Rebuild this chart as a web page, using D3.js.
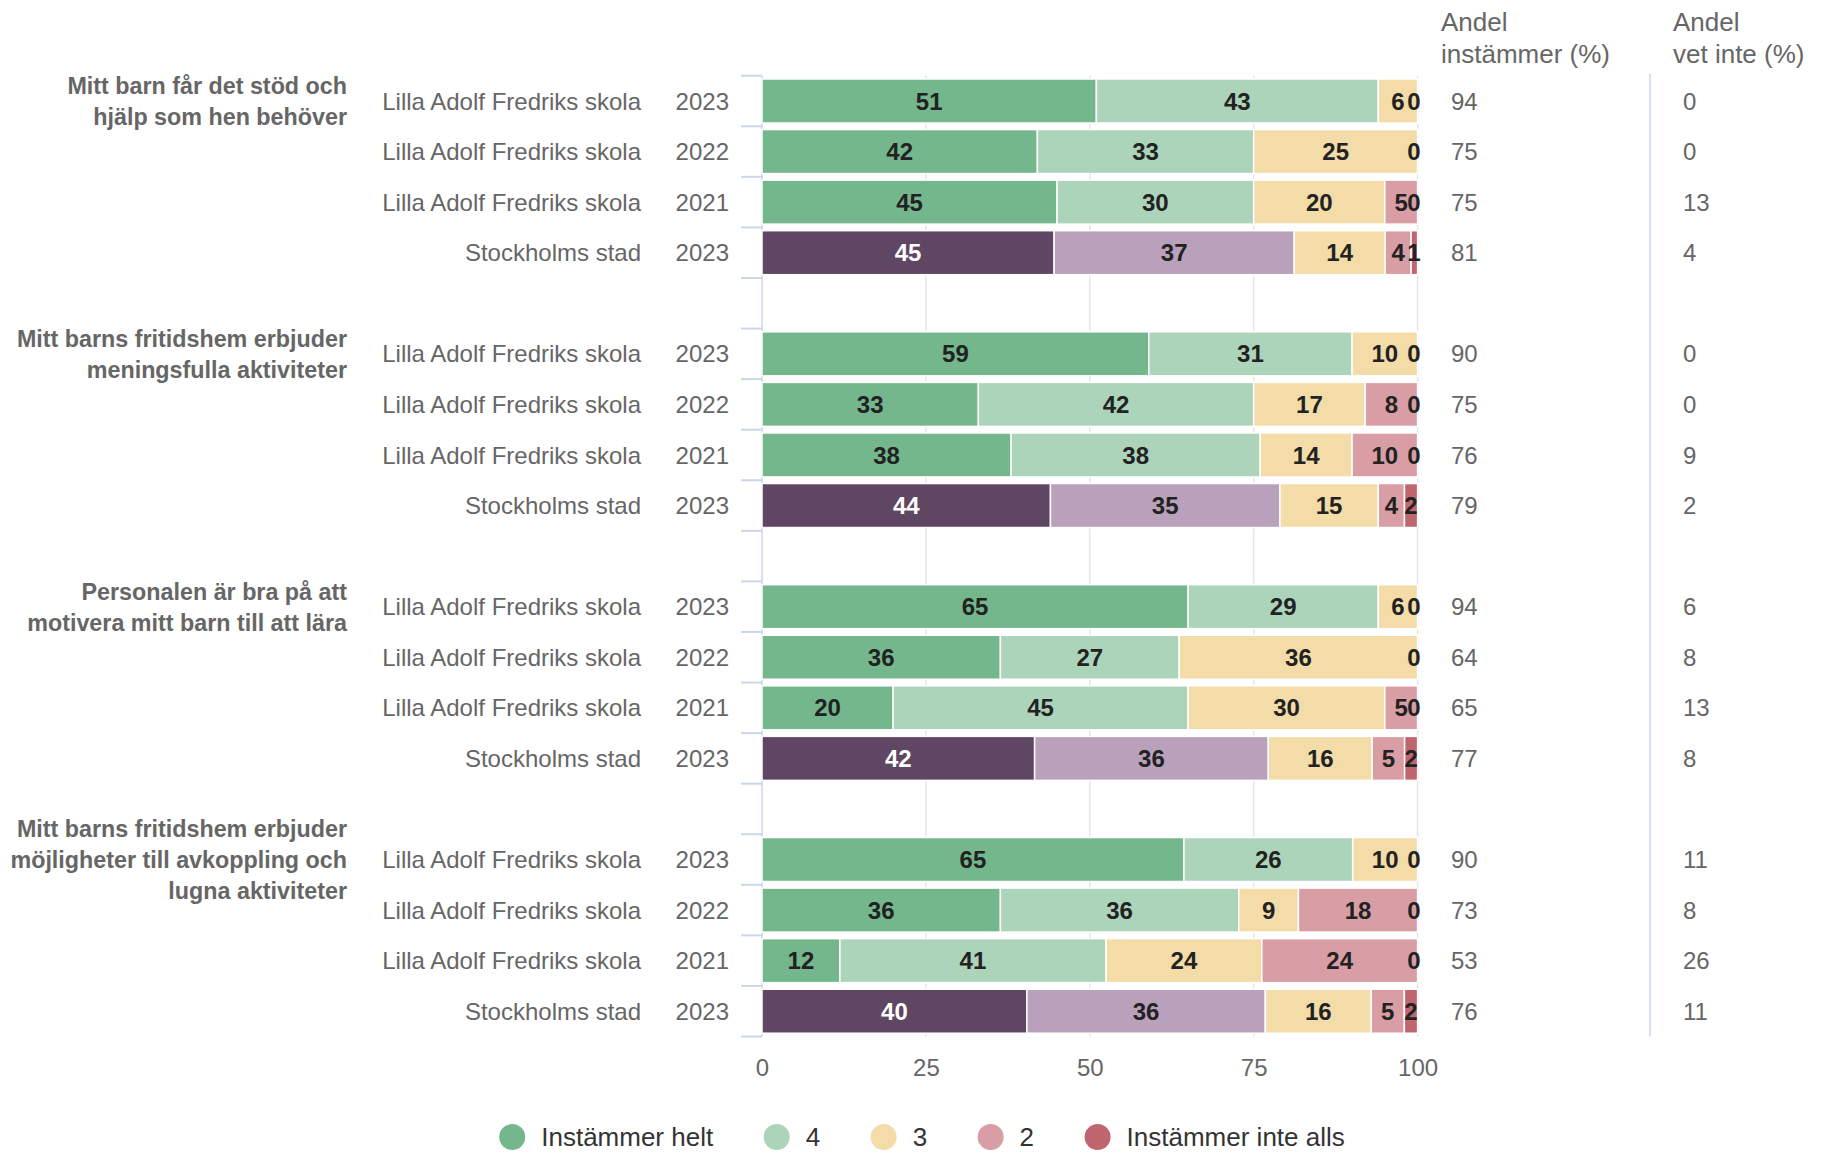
<!DOCTYPE html>
<html>
<head>
<meta charset="UTF-8">
<script src="https://cdn.jsdelivr.net/npm/d3@7"></script>
<style>
body{
    margin:0;
    background:#fff;
    font-family:"Liberation Sans", Arial, Helvetica, sans-serif;
}
</style>
</head>
<body>
<script>
// chart data
var questions = [
    ["Mitt barn får det stöd och", "hjälp som hen behöver"],
    ["Mitt barns fritidshem erbjuder", "meningsfulla aktiviteter"],
    ["Personalen är bra på att", "motivera mitt barn till att lära"],
    ["Mitt barns fritidshem erbjuder", "möjligheter till avkoppling och", "lugna aktiviteter"]
]
var units = ["Lilla Adolf Fredriks skola", "Lilla Adolf Fredriks skola", "Lilla Adolf Fredriks skola", "Stockholms stad"]
var years = ["2023", "2022", "2021", "2023"]
var series = ["Instämmer helt", "4", "3", "2", "Instämmer inte alls"]

// per question: one row per unit, values per series
var values = [
    [[51, 43, 6, 0, 0], [42, 33, 25, 0, 0], [45, 30, 20, 5, 0], [45, 37, 14, 4, 1]],
    [[59, 31, 10, 0, 0], [33, 42, 17, 8, 0], [38, 38, 14, 10, 0], [44, 35, 15, 4, 2]],
    [[65, 29, 6, 0, 0], [36, 27, 36, 0, 0], [20, 45, 30, 5, 0], [42, 36, 16, 5, 2]],
    [[65, 26, 10, 0, 0], [36, 36, 9, 18, 0], [12, 41, 24, 24, 0], [40, 36, 16, 5, 2]]
]
var andelInstammer = [[94, 75, 75, 81], [90, 75, 76, 79], [94, 64, 65, 77], [90, 73, 53, 76]]
var andelVetInte = [[0, 0, 13, 4], [0, 0, 9, 2], [6, 8, 13, 8], [11, 8, 26, 11]]
var xTicks = [0, 25, 50, 75, 100]

var colors = ["#74b78d", "#acd4bb", "#f3dca8", "#d99ea5", "#c1656f"]
var cityColors = ["#5f4663", "#b9a0bb", "#f3dca8", "#d99ea5", "#c1656f"]

var width = 1825, height = 1155
var svg = d3.select("body").append("svg")
    .attr("width", width)
    .attr("height", height)

var plotTop = 75.7, plotBottom = 1036.5
var x = d3.scaleLinear().domain([0, 100]).range([762, 1417.6])

// slots: 4 rows per question, blank slot between questions
var slots = []
questions.forEach(function(q, g){
    units.forEach(function(u, r){ slots.push(g + "-" + r) })
    if (g < questions.length - 1) slots.push("gap-" + g)
})
var y = d3.scaleBand().domain(slots).range([plotTop, plotBottom]).paddingInner(0.13).paddingOuter(0.065)
var step = y.step()
function rowCenter(g, r){ return y(g + "-" + r) + y.bandwidth() / 2 }

// grid lines
svg.append("g").selectAll("line")
    .data(xTicks.slice(1))
    .join("line")
    .attr("x1", d => x(d)).attr("x2", d => x(d))
    .attr("y1", plotTop).attr("y2", plotBottom)
    .attr("stroke", "#e6e6e6").attr("stroke-width", 1.5)

// category axis line + ticks between categories
svg.append("line")
    .attr("x1", x(0)).attr("x2", x(0))
    .attr("y1", plotTop).attr("y2", plotBottom)
    .attr("stroke", "#ccd6eb").attr("stroke-width", 1.5)
svg.append("g").selectAll("line")
    .data(d3.range(slots.length + 1))
    .join("line")
    .attr("x1", x(0) - 21).attr("x2", x(0))
    .attr("y1", i => plotTop + i * step).attr("y2", i => plotTop + i * step)
    .attr("stroke", "#ccd6eb").attr("stroke-width", 2)

// separator of right table
svg.append("line")
    .attr("x1", 1650).attr("x2", 1650)
    .attr("y1", 74).attr("y2", plotBottom)
    .attr("stroke", "#ccd6eb").attr("stroke-width", 1.5)

// bars
var bars = svg.append("g")
var labels = svg.append("g")
    .attr("font-size", 24)
    .attr("font-weight", "bold")
    .attr("text-anchor", "middle")

values.forEach(function(rows, g){
    rows.forEach(function(vals, r){
        var total = d3.sum(vals)
        var isCity = units[r] == "Stockholms stad"
        var pal = isCity ? cityColors : colors
        var cum = 0
        var cy = rowCenter(g, r)
        vals.forEach(function(v, s){
            var x0 = x(cum / total * 100)
            cum += v
            var x1 = x(cum / total * 100)
            if (v > 0) {
                bars.append("rect")
                    .attr("x", x0).attr("y", y(g + "-" + r))
                    .attr("width", x1 - x0).attr("height", y.bandwidth())
                    .attr("fill", pal[s])
                    .attr("stroke", "#fff").attr("stroke-width", 1.5)
            }
            if (v > 0 || s == vals.length - 1) {
                var t = labels.append("text")
                    .attr("y", cy).attr("dy", "0.36em")
                    .attr("fill", (isCity && s == 0) ? "#fff" : "#222")
                    .text(v)
                var w = t.node().getComputedTextLength()
                var cx = (x0 + x1) / 2
                if (cx + w / 2 > x(100) + 3) cx = x(100) + 3 - w / 2
                t.attr("x", cx)
            }
        })
    })
})

// left labels
var left = svg.append("g").attr("font-size", 24).attr("fill", "#666")
questions.forEach(function(lines, g){
    var c = rowCenter(g, 0)
    lines.forEach(function(line, i){
        left.append("text")
            .attr("x", 347)
            .attr("y", c + (i - (lines.length - 1) / 2) * 31)
            .attr("dy", "0.36em")
            .attr("text-anchor", "end")
            .attr("font-weight", "bold")
            .attr("font-size", 23.3)
            .text(line)
    })
    units.forEach(function(u, r){
        var cy = rowCenter(g, r)
        left.append("text")
            .attr("x", 641).attr("y", cy).attr("dy", "0.36em")
            .attr("text-anchor", "end")
            .text(u)
        left.append("text")
            .attr("x", 729).attr("y", cy).attr("dy", "0.36em")
            .attr("text-anchor", "end")
            .text(years[r])
        left.append("text")
            .attr("x", 1451).attr("y", cy).attr("dy", "0.36em")
            .text(andelInstammer[g][r])
        left.append("text")
            .attr("x", 1683).attr("y", cy).attr("dy", "0.36em")
            .text(andelVetInte[g][r])
    })
})

// table headers
var headers = [["Andel", "instämmer (%)"], ["Andel", "vet inte (%)"]]
var headerX = [1441, 1673]
headers.forEach(function(h, i){
    h.forEach(function(line, j){
        svg.append("text")
            .attr("x", headerX[i]).attr("y", 31 + j * 32)
            .attr("font-size", 26).attr("fill", "#666")
            .text(line)
    })
})

// x axis
var xAxis = svg.append("g")
    .attr("transform", "translate(0," + plotBottom + ")")
    .call(d3.axisBottom(x).tickValues(xTicks).tickSize(0).tickPadding(22))
xAxis.select(".domain").remove()
xAxis.selectAll("text")
    .attr("font-size", 24)
    .attr("font-family", "Liberation Sans, Arial, sans-serif")
    .attr("fill", "#666")

// legend
var legend = svg.append("g").attr("font-size", 26)
var items = []
var lx = 0
series.forEach(function(s, i){
    var it = legend.append("g")
    it.append("circle").attr("cx", 0).attr("cy", 0).attr("r", 13).attr("fill", colors[i])
    var t = it.append("text").attr("x", 29).attr("dy", "0.36em").attr("fill", "#333").text(s)
    var w = t.node().getComputedTextLength()
    items.push({g: it, x: lx})
    lx += 29 + w + 63.5
})
var legendWidth = lx - 63.5 + 13
var startX = 922 - legendWidth / 2 + 13
items.forEach(function(it){
    it.g.attr("transform", "translate(" + (startX + it.x) + ",1137)")
})
</script>
</body>
</html>
